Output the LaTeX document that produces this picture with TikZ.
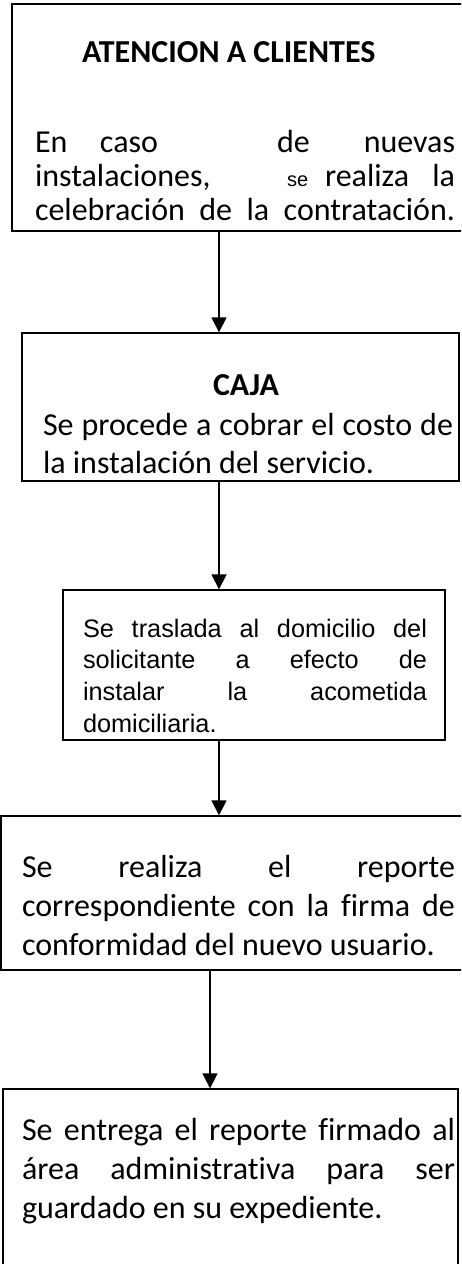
\documentclass[tikz,border=0pt]{standalone}
\usepackage{fontspec}
\setmainfont[Ligatures=NoCommon]{Carlito}
\newfontfamily\arialf{Liberation Sans}
\usetikzlibrary{arrows.meta}
\tikzset{
  stepbox/.style={draw=black, line width=1.3pt, rectangle, inner sep=0pt, fill=none},
  txt/.style={anchor=base west, inner sep=0pt, outer sep=0pt},
  arr/.style={line width=1.3pt, -{Triangle[width=15pt,length=15pt]}}
}
\newcommand{\cfont}{\fontsize{32}{34}\selectfont}
\newcommand{\dfont}{\fontsize{32}{37.5}\selectfont}
\newcommand{\afont}{\arialf\fontsize{25.3}{31.7}\selectfont}
\newcommand{\efont}{\fontsize{32}{39}\selectfont}
\begin{document}
\begin{tikzpicture}[x=1pt,y=-1pt]
\clip (0,0) rectangle (461,1264);
\fill[white] (0,0) rectangle (461,1264);
% boxes
\node[stepbox, minimum width=454pt, minimum height=227pt] (b1) at (239,117.5) {};
\node[stepbox, minimum width=437pt, minimum height=148pt] (b2) at (240.5,407) {};
\node[stepbox, minimum width=382pt, minimum height=150pt] (b3) at (254,665) {};
\node[stepbox, minimum width=465pt, minimum height=154pt] (b4) at (233.5,893) {};
\node[stepbox, minimum width=455pt, minimum height=186pt] (b5) at (230.5,1182) {};
% box 1 text
\node[txt] (t1) at (82,62) {\cfont\bfseries ATENCION A CLIENTES};
\node[txt] (t1b) at (35,152) {\parbox[t]{420pt}{\cfont
\hbox to 420pt{\makebox[65pt][l]{En}\makebox[177pt][l]{caso}de\hfill nuevas}
\hbox to 420pt{\makebox[252pt][l]{instalaciones,}\makebox[38pt][l]{\arialf\fontsize{20}{20}\selectfont se}realiza\hfill la}
\makebox[420pt][s]{celebración de la contratación.}}};
% box 2 text
\node[txt] (t2) at (213,395) {\cfont\bfseries CAJA};
\node[txt] (t2b) at (43,435.5) {\parbox[t]{410pt}{\dfont
\makebox[410pt][s]{Se procede a cobrar el costo de}\\
la instalación del servicio.}};
% box 3 text
\node[txt] (t3) at (83,637) {\parbox[t]{344pt}{\afont
\makebox[344pt][s]{Se traslada al domicilio del}\\
\makebox[344pt][s]{solicitante a efecto de}\\
\makebox[344pt][s]{instalar la acometida}\\
domiciliaria.}};
% box 4 text
\node[txt] (t4) at (22,877) {\parbox[t]{433pt}{\efont
\makebox[433pt][s]{Se realiza el reporte}\\
\makebox[433pt][s]{correspondiente con la firma de}\\
conformidad del nuevo usuario.}};
% box 5 text
\node[txt] (t5) at (22,1140) {\parbox[t]{433pt}{\efont
\makebox[433pt][s]{Se entrega el reporte firmado al}\\
\makebox[433pt][s]{área administrativa para ser}\\
guardado en su expediente.}};
% arrows
\draw[arr] ([xshift=-20pt]b1.south) -- ([xshift=-20pt]b1.south |- b2.north);
\draw[arr] ([xshift=-21.5pt]b2.south) -- ([xshift=-21.5pt]b2.south |- b3.north);
\draw[arr] ([xshift=-35pt]b3.south) -- ([xshift=-35pt]b3.south |- b4.north);
\draw[arr] ([xshift=-23.5pt]b4.south) -- ([xshift=-23.5pt]b4.south |- b5.north);
\end{tikzpicture}
\end{document}
